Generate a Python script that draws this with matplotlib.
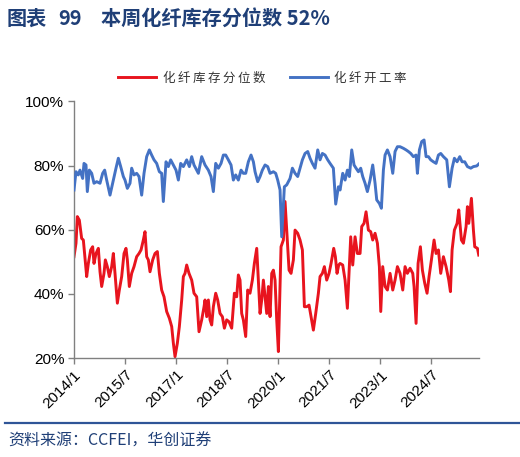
import matplotlib
matplotlib.use('Agg')
import numpy as np
import matplotlib.pyplot as plt
from matplotlib.lines import Line2D

plt.rcParams['font.family'] = ['Noto Sans CJK SC', 'DejaVu Sans']

# time in years since 2014/1
blue_yrs = [0.000, 0.059, 0.127, 0.176, 0.255, 0.294, 0.353, 0.392, 0.451, 0.520,
            0.588, 0.667, 0.765, 0.843, 0.902, 0.961, 1.059, 1.157, 1.235, 1.304,
            1.373, 1.451, 1.500, 1.569, 1.647, 1.696, 1.765, 1.843, 1.912, 1.990,
            2.059, 2.137, 2.216, 2.284, 2.353, 2.431, 2.510, 2.578, 2.627, 2.706,
            2.775, 2.843, 2.922, 3.000, 3.069, 3.137, 3.216, 3.314, 3.392, 3.461,
            3.529, 3.657, 3.755,
            3.853, 3.951, 4.029, 4.098, 4.167, 4.245, 4.324, 4.392, 4.461, 4.539,
            4.618, 4.686, 4.755, 4.833, 4.912, 4.980, 5.049, 5.127, 5.206, 5.275,
            5.324, 5.402, 5.471, 5.539, 5.618, 5.696, 5.765, 5.863, 5.931, 5.990,
            6.059, 6.108, 6.186, 6.255, 6.353, 6.422, 6.500, 6.578, 6.647, 6.716,
            6.794, 6.873, 6.941, 7.010, 7.088, 7.167, 7.235, 7.304, 7.382, 7.461,
            7.529, 7.627, 7.696, 7.775,
            7.824, 7.902, 7.971, 8.039, 8.098, 8.167, 8.235, 8.294, 8.363, 8.431,
            8.490, 8.559, 8.627, 8.706, 8.784, 8.853, 8.902, 8.980, 9.039, 9.098,
            9.147, 9.216, 9.294, 9.373, 9.441, 9.510, 9.588, 9.686, 9.765, 9.833,
            9.902, 9.980, 10.059, 10.098, 10.157, 10.225, 10.294, 10.353, 10.422, 10.490,
            10.569, 10.647, 10.716, 10.784, 10.863, 10.961, 11.039, 11.118, 11.186, 11.265,
            11.343, 11.412, 11.490, 11.569, 11.667, 11.745, 11.843, 11.902]
blue_v = [72.4, 78.1, 77.1, 78.6, 76.0, 80.7, 80.2, 71.9, 78.6, 77.6,
          74.5, 75.0, 74.5, 77.6, 78.6, 75.5, 70.8, 75.5, 79.2, 82.3,
          79.7, 76.6, 75.5, 72.9, 74.5, 79.2, 77.1, 77.6, 76.6, 70.8,
          77.6, 82.8, 84.9, 83.3, 81.8, 80.7, 78.1, 77.6, 68.8, 81.2,
          79.7, 81.8, 80.2, 78.6, 75.5, 80.7, 79.7, 81.8, 79.7, 82.8,
          80.2, 77.6, 82.8,
          80.2, 78.6, 76.6, 71.9, 80.7, 79.2, 80.7, 83.3, 83.3, 81.8,
          80.2, 75.5, 77.1, 75.5, 78.6, 77.6, 77.6, 81.2, 83.3, 81.2,
          78.1, 75.0, 76.6, 78.6, 80.2, 79.7, 77.6, 78.1, 77.6, 75.5,
          72.4, 57.8, 73.4, 74.0, 76.0, 79.2, 77.6, 76.6, 79.2, 81.8,
          83.8, 84.4, 82.3, 80.7, 79.2, 84.9, 81.8, 83.8, 83.3, 81.8,
          80.7, 79.2, 68.0, 73.4,
          72.4, 77.6, 75.5, 78.6, 76.6, 84.9, 80.2, 79.2, 78.1, 79.2,
          76.6, 74.5, 71.9, 75.5, 80.2, 74.5, 69.3, 68.2, 66.7, 78.6,
          83.3, 84.9, 82.8, 77.6, 84.4, 85.9, 85.9, 85.4, 84.9, 84.4,
          83.8, 82.8, 83.3, 77.6, 84.9, 87.5, 88.0, 82.8, 82.8, 81.8,
          81.2, 80.7, 83.3, 83.8, 82.8, 81.8, 73.4, 79.2, 82.3, 81.2,
          82.8, 81.2, 81.2, 79.7, 79.2, 79.7, 79.9, 80.5]

red_yrs = [0.000, 0.059, 0.098, 0.157, 0.225, 0.275, 0.324, 0.373, 0.422, 0.490,
           0.549, 0.588, 0.647, 0.716, 0.765, 0.814, 0.882, 0.922, 0.980, 1.039,
           1.108, 1.157, 1.206, 1.275, 1.333, 1.402, 1.471, 1.529, 1.569, 1.627,
           1.696, 1.765, 1.843, 1.912, 1.971, 2.039, 2.088, 2.137, 2.186, 2.235,
           2.314, 2.382, 2.451, 2.510, 2.578, 2.647, 2.725, 2.804, 2.873, 2.922,
           2.971, 3.039, 3.098, 3.167, 3.216, 3.265, 3.314, 3.382, 3.461, 3.529,
           3.608, 3.676, 3.755, 3.824,
           3.853, 3.902, 3.951, 4.000, 4.049, 4.098, 4.167, 4.225, 4.294, 4.363,
           4.422, 4.490, 4.559, 4.637, 4.716, 4.784, 4.833, 4.882, 4.931, 4.980,
           5.049, 5.108, 5.176, 5.245, 5.304, 5.373, 5.422, 5.471, 5.520, 5.569,
           5.618, 5.667, 5.716, 5.765, 5.814, 5.863, 5.912, 5.961, 6.010, 6.088,
           6.157, 6.206, 6.255, 6.324, 6.382, 6.451, 6.500, 6.578, 6.647, 6.716,
           6.775, 6.843, 6.912, 6.971, 7.039, 7.108, 7.186, 7.235, 7.304, 7.363,
           7.431, 7.500, 7.559, 7.637, 7.686, 7.735, 7.784,
           7.824, 7.902, 7.971, 8.039, 8.098, 8.137, 8.196, 8.265, 8.333, 8.412,
           8.461, 8.529, 8.588, 8.657, 8.725, 8.784, 8.853, 8.922, 8.980, 9.020,
           9.078, 9.147, 9.216, 9.294, 9.373, 9.441, 9.510, 9.588, 9.667, 9.735,
           9.804, 9.882, 9.961, 10.000, 10.059, 10.118, 10.186, 10.245, 10.314, 10.382,
           10.441, 10.510, 10.588, 10.647, 10.716, 10.784, 10.863, 10.941, 11.020, 11.069,
           11.118, 11.186, 11.265, 11.314, 11.392, 11.451, 11.529, 11.569, 11.608, 11.686,
           11.745, 11.784, 11.863, 11.902]
red_v = [51.6, 55.8, 64.1, 63.0, 57.3, 56.8, 51.1, 45.4, 49.5, 53.7,
         54.7, 49.5, 52.6, 54.2, 46.9, 42.3, 46.4, 50.6, 48.5, 45.4,
         48.5, 52.6, 46.4, 37.1, 41.2, 45.4, 52.6, 54.2, 50.6, 42.3,
         46.4, 48.5, 51.6, 52.6, 53.7, 56.8, 59.4, 51.6, 50.6, 46.9,
         50.6, 52.6, 53.2, 46.4, 41.2, 39.1, 34.5, 32.4, 29.8, 24.6,
         20.4, 24.6, 29.8, 38.1, 45.4, 46.4, 49.0, 46.4, 44.3, 40.2,
         39.1, 28.2, 31.9, 36.0,
         38.1, 32.9, 38.1, 31.9, 30.3, 36.0, 40.2, 38.1, 33.9, 32.9,
         29.3, 31.9, 31.3, 29.3, 40.2, 39.1, 45.9, 44.3, 33.9, 31.9,
         26.7, 41.2, 40.2, 44.3, 49.5, 54.2, 44.3, 33.9, 38.1, 44.3,
         39.1, 33.9, 42.3, 32.9, 46.4, 47.4, 44.3, 31.9, 22.0, 54.7,
         56.8, 68.8, 59.9, 47.4, 46.4, 50.6, 59.9, 58.9, 56.8, 53.7,
         36.0, 36.0, 36.5, 32.9, 28.7, 33.9, 40.2, 45.4, 46.4, 48.5,
         44.3, 46.4, 49.5, 54.2, 51.6, 46.4, 49.0,
         49.5, 49.0, 44.3, 35.5, 48.5, 57.8, 49.0, 57.8, 52.6, 52.6,
         61.0, 62.0, 65.6, 59.9, 59.4, 56.8, 58.9, 55.8, 48.5, 34.5,
         48.5, 42.3, 41.2, 46.4, 41.2, 44.3, 48.5, 46.4, 41.2, 48.5,
         46.4, 48.0, 46.4, 42.3, 30.8, 49.5, 54.7, 47.4, 43.3, 40.2,
         45.4, 50.6, 56.8, 52.6, 53.7, 46.4, 51.6, 48.5, 44.3, 40.7,
         53.7, 59.9, 62.0, 66.2, 56.8, 55.8, 61.0, 67.2, 62.0, 69.8,
         59.9, 54.7, 54.2, 52.1]

tick_yrs = [0.0, 1.5, 3.0, 4.5, 6.0, 7.5, 9.0, 10.5]
tick_lab = ['2014/1', '2015/7', '2017/1', '2018/7', '2020/1', '2021/7', '2023/1', '2024/7']
y_ticks = [20, 40, 60, 80, 100]

navy = '#1F3F77'

fig = plt.figure(figsize=(5.2, 4.57), dpi=100)
ax = fig.add_axes([0.1423, 0.2166, 0.7789, 0.5613])

ax.plot(2014 + np.array(red_yrs), red_v, color='#E8141E', lw=2.1,
        label='化\u2009纤\u2009库\u2009存\u2009分\u2009位\u2009数', zorder=2)
ax.plot(2014 + np.array(blue_yrs), blue_v, color='#4472C4', lw=2.1,
        label='化\u2009纤\u2009开\u2009工\u2009率', zorder=3)

ax.set_xlim(2014.0, 2025.91)
ax.set_ylim(20, 100)
ax.set_yticks(y_ticks)
ax.set_yticklabels(['%d%%' % v for v in y_ticks], family='Liberation Sans', fontsize=11)
ax.set_xticks(2014 + np.array(tick_yrs))
ax.set_xticklabels(tick_lab, rotation=45, ha='right', rotation_mode='anchor',
                   family='Liberation Sans', fontsize=11)
for s in ['top', 'right']:
    ax.spines[s].set_visible(False)
for s in ['left', 'bottom']:
    ax.spines[s].set_color('#808080')
    ax.spines[s].set_linewidth(1.0)
ax.tick_params(axis='both', direction='out', length=4, color='#808080', width=1.0, pad=3)

ax.legend(loc='center', bbox_to_anchor=(0.505, 0.829), bbox_transform=fig.transFigure,
          ncol=2, frameon=False, fontsize=9, handlelength=3.0, handletextpad=0.55,
          columnspacing=2.0, labelcolor='#333333')

fig.text(7 / 520, 0.9606, '图表', color=navy, fontsize=14.5, fontweight='bold', va='center')
fig.text(58 / 520, 0.9606, '99', color=navy, fontsize=14.5, fontweight='bold', va='center')
fig.text(101 / 520, 0.9606, '本周化纤库存分位数 52%', color=navy, fontsize=14.5,
         fontweight='bold', va='center')

fig.add_artist(Line2D([5 / 520, 1.0], [0.0744, 0.0744], color='#2F5597', lw=1.6))
fig.text(8 / 520, 0.035, '资料来源：CCFEI，华创证券', color=navy, fontsize=11.5,
         style='italic', va='center')

fig.savefig('out.png', dpi=100)
